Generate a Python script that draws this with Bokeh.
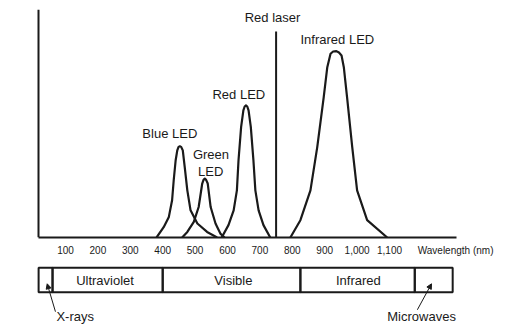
from bokeh.plotting import figure
from bokeh.layouts import column
from bokeh.models import Range1d, FixedTicker, NumeralTickFormatter, Arrow, NormalHead, ColumnDataSource
from bokeh.core.properties import value
from bokeh.embed import file_html
from bokeh.resources import INLINE

FONT = "Liberation Sans"
INK = "#1a1a1a"

# ---- data (wavelength in nm, relative light intensity; red laser = 100) ----
blue_wl = [381, 403, 419, 429, 434, 440, 445, 449, 453, 457, 462, 468, 476, 486, 507, 537, 568]
blue_in = [0, 5, 10, 18.1, 27.8, 37.5, 42.3, 44.0, 44.3, 44.0, 42.3, 34.2, 22.9, 13.2, 6.8, 2.7, 0]

green_wl = [460, 476, 496, 511, 522, 526, 530, 534, 539, 548, 563, 578, 591]
green_in = [0, 2.7, 7.6, 14.8, 26.2, 28.0, 28.6, 28.0, 26.2, 14.8, 6.8, 1.9, 0]

red_wl = [582, 603, 619, 629, 634, 642, 649, 653, 657, 661, 665, 672, 680, 686, 696, 711, 732]
red_in = [0, 6.0, 13.2, 22.9, 37.5, 53.6, 61.7, 63.6, 64.1, 63.6, 61.7, 53.6, 37.5, 22.9, 13.2, 6.0, 0]

ir_wl = [794, 825, 856, 877, 897, 908, 918, 926, 936, 944, 952, 959, 969, 985, 1000, 1031, 1093]
ir_in = [0, 8.4, 22.9, 43.9, 68.2, 82.7, 89.2, 90.3, 90.5, 89.8, 88.4, 82.7, 68.2, 43.9, 22.9, 8.4, 0]

laser_wl = 750
laser_in = 100

axis_start, axis_end = 16.7, 1306.8
tick_values = [100, 200, 300, 400, 500, 600, 700, 800, 900, 1000, 1100]
x_title = "Wavelength (nm)"
y_title = "Light intensity"

source_labels = ["Red laser", "Infrared LED", "Red LED", "Blue LED", "Green", "LED"]
source_label_x = [739, 939, 635, 422, 549, 548]
source_label_y = [106.7, 96.1, 69.4, 50.3, 40.1, 32.1]

band_edges = [17, 60, 400, 825, 1178, 1295]
band_names = ["", "Ultraviolet", "Visible", "Infrared", ""]
band_label_x = [0, 222, 618, 1004, 0]

callout_names = ["X-rays", "Microwaves"]
callout_x = [130, 1199]

xr = Range1d(-8.02, 1350.0)

# ---- upper chart ----
p = figure(width=505, height=262, output_backend="svg", toolbar_location=None,
           x_range=xr, y_range=Range1d(0, 110.7),
           min_border_left=30, min_border_right=35, min_border_top=9, min_border_bottom=25)
p.outline_line_color = None
p.grid.visible = False
p.background_fill_color = "white"

for wl, inten in [(blue_wl, blue_in), (green_wl, green_in), (red_wl, red_in), (ir_wl, ir_in)]:
    p.line(wl, inten, line_color=INK, line_width=2.2, line_join="round")
p.segment(x0=[laser_wl], y0=[0], x1=[laser_wl], y1=[laser_in], line_color=INK, line_width=2)

p.text(x=source_label_x, y=source_label_y, text=source_labels, text_font=value(FONT),
       text_font_size="13px", text_align="center", text_baseline="alphabetic", text_color=INK)

wl_tick = 1304
xa = p.xaxis[0]
xa.bounds = (axis_start, axis_end)
xa.ticker = FixedTicker(ticks=tick_values + [wl_tick])
xa.formatter = NumeralTickFormatter(format="0,0")
xa.major_label_overrides = {wl_tick: x_title}
xa.major_tick_line_color = None
xa.minor_tick_line_color = None
xa.major_tick_out = 0
xa.major_label_standoff = 7
xa.major_label_text_font = FONT
xa.major_label_text_font_size = "10px"
xa.major_label_text_color = INK
xa.axis_line_width = 2
xa.axis_line_color = INK

ya = p.yaxis[0]
ya.fixed_location = axis_start
ya.ticker = FixedTicker(ticks=[])
ya.major_tick_line_color = None
ya.minor_tick_line_color = None
ya.major_tick_out = 0
ya.axis_label = y_title
ya.axis_label_text_font = FONT
ya.axis_label_text_font_size = "13px"
ya.axis_label_text_font_style = "normal"
ya.axis_label_text_color = INK
ya.axis_label_standoff = 14
ya.axis_line_width = 2
ya.axis_line_color = INK

# ---- spectrum band bar ----
q = figure(width=505, height=62, output_backend="svg", toolbar_location=None,
           x_range=xr, y_range=Range1d(-1.324, 1.217),
           x_axis_type=None, y_axis_type=None,
           min_border_left=30, min_border_right=35, min_border_top=0, min_border_bottom=0)
q.outline_line_color = None
q.grid.visible = False

q.quad(left=band_edges[:-1], right=band_edges[1:], bottom=0, top=1,
       fill_color=None, line_color=INK, line_width=2)
bsrc = ColumnDataSource(dict(x=[band_label_x[i] for i in range(5) if band_names[i]],
                             t=[n for n in band_names if n]))
q.text(x="x", y=0.46, text="t", source=bsrc, text_font=value(FONT), text_font_size="13px",
       text_align="center", text_baseline="alphabetic", text_color=INK)
q.text(x=callout_x, y=[-1.0, -1.0], text=callout_names, text_font=value(FONT),
       text_font_size="13px", text_align="center", text_baseline="alphabetic", text_color=INK)

q.add_layout(Arrow(end=NormalHead(size=5, fill_color=INK, line_color=INK, line_width=1),
                   x_start=69, y_start=-0.8, x_end=43.5, y_end=0.344,
                   line_color=INK, line_width=1))
q.add_layout(Arrow(end=NormalHead(size=5, fill_color=INK, line_color=INK, line_width=1),
                   x_start=1186, y_start=-0.72, x_end=1229.6, y_end=0.344,
                   line_color=INK, line_width=1))

layout = column(p, q, spacing=0)
open("out.html", "w").write(file_html(layout, INLINE))
